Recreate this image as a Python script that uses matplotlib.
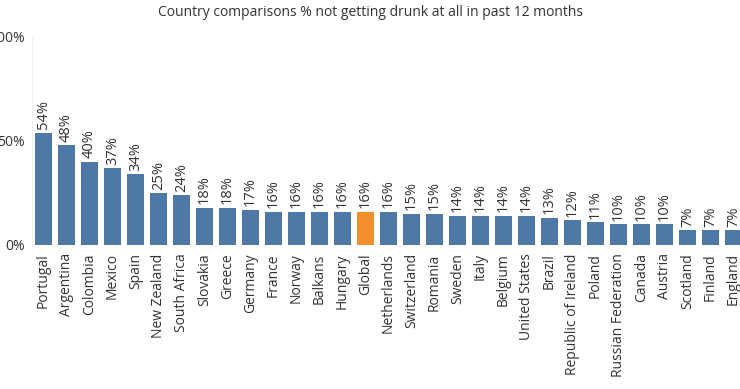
import matplotlib
matplotlib.use("Agg")
import matplotlib.pyplot as plt

countries = ['Portugal', 'Argentina', 'Colombia', 'Mexico', 'Spain', 'New Zealand',
             'South Africa', 'Slovakia', 'Greece', 'Germany', 'France', 'Norway',
             'Balkans', 'Hungary', 'Global', 'Netherlands', 'Switzerland', 'Romania',
             'Sweden', 'Italy', 'Belgium', 'United States', 'Brazil',
             'Republic of Ireland', 'Poland', 'Russian Federation', 'Canada',
             'Austria', 'Scotland', 'Finland', 'England']
pct = [54, 48, 40, 37, 34, 25, 24, 18, 18, 17, 16, 16, 16, 16, 16, 16, 15, 15,
       14, 14, 14, 14, 13, 12, 11, 10, 10, 10, 7, 7, 7]
y_ticks = [0, 50, 100]

plt.rcParams['font.family'] = ['Open Sans', 'DejaVu Sans']

W, H = 740, 389
fig = plt.figure(figsize=(W / 100, H / 100), dpi=100)
# axes in pixel terms: left 32, right 745, top 37, bottom 245
ax = fig.add_axes([32 / W, (H - 245) / H, (745 - 32) / W, (245 - 37) / H])

colors = ['#f28e2b' if c == 'Global' else '#4e79a7' for c in countries]
x = range(len(countries))
ax.bar(x, pct, width=0.77, color=colors)

for i, v in enumerate(pct):
    ax.annotate(f'{v}%', (i, v), xytext=(0, 2.5), textcoords='offset points',
                rotation=90, ha='center', va='bottom', fontsize=10.5, color='#333333')

ax.set_xlim(-0.5, len(countries) - 0.5)
ax.set_ylim(0, 100)
ax.set_xticks(list(x))
ax.set_xticklabels(countries, rotation=90, fontsize=10, color='#333333')
ax.set_yticks(y_ticks)
ax.set_yticklabels([f'{t}%' for t in y_ticks], fontsize=10, color='#333333')
ax.tick_params(axis='both', length=0)
ax.tick_params(axis='x', pad=6)
ax.tick_params(axis='y', pad=5)

for s in ['top', 'right', 'bottom']:
    ax.spines[s].set_visible(False)
ax.spines['left'].set_color('#eeeeee')

fig.text(370 / W, 1 - 12 / H, 'Country comparisons % not getting drunk at all in past 12 months',
         ha='center', va='center', fontsize=10, color='#333333')

fig.savefig('out.png', dpi=100)
